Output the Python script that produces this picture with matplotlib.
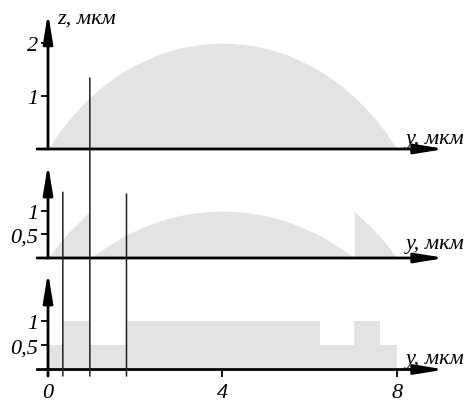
import matplotlib
matplotlib.use("Agg")
import matplotlib.pyplot as plt
from matplotlib.patches import ConnectionPatch

# top: continuous profile z(y)
top_y = [0, 0.25, 0.5, 0.75, 1.0, 1.25, 1.5, 1.75, 2.0, 2.25, 2.5, 2.75, 3.0, 3.25, 3.5, 3.75, 4.0,
         4.25, 4.5, 4.75, 5.0, 5.25, 5.5, 5.75, 6.0, 6.25, 6.5, 6.75, 7.0, 7.25, 7.5, 7.75, 8.0]
top_z = [0, 0.31, 0.57, 0.80, 1.0, 1.18, 1.33, 1.47, 1.58, 1.68, 1.77, 1.84, 1.90, 1.94, 1.97, 1.99, 2.0,
         1.99, 1.97, 1.94, 1.90, 1.84, 1.77, 1.68, 1.58, 1.47, 1.33, 1.18, 1.0, 0.80, 0.57, 0.31, 0]

# middle: profile folded into zones
mid_y = [0, 0.25, 0.5, 0.75, 0.96, 0.96, 1.25, 1.5, 1.75, 2.0, 2.25, 2.5, 2.75, 3.0, 3.25, 3.5, 3.75, 4.0,
         4.25, 4.5, 4.75, 5.0, 5.25, 5.5, 5.75, 6.0, 6.25, 6.5, 6.75, 7.02, 7.02, 7.25, 7.5, 7.75, 8.0]
mid_z = [0, 0.31, 0.57, 0.80, 1.0, 0, 0.18, 0.33, 0.47, 0.58, 0.68, 0.77, 0.84, 0.90, 0.94, 0.97, 0.99, 1.0,
         0.99, 0.97, 0.94, 0.90, 0.84, 0.77, 0.68, 0.58, 0.47, 0.33, 0.18, 0, 1.0, 0.80, 0.57, 0.31, 0]

# bottom: two-level binary profile
bin_edges = [0, 0.34, 0.96, 1.80, 6.24, 7.02, 7.61, 8.0]
bin_levels = [0.5, 1, 0.5, 1, 0.5, 1, 0.5]

# vertical guide lines: (y position, top z in its panel, panel)
guides = [(0.34, 1.40, "mid"), (0.96, 1.34, "top"), (1.80, 1.36, "mid")]

xticks = [0, 4, 8]
fill_c = "#e3e3e3"

plt.rcParams["font.family"] = "Liberation Serif"
plt.rcParams["font.style"] = "italic"
plt.rcParams["font.size"] = 16

fig = plt.figure(figsize=(4.65, 4.02), dpi=100)
xl = (-1.101, 9.564)
ax_top = fig.add_axes([0, 0.602, 1, 0.398])
ax_mid = fig.add_axes([0, 0.3408, 1, 0.2612])
ax_bot = fig.add_axes([0, 0, 1, 0.3408])
ax_top.set_ylim(-0.189, 2.83)
ax_mid.set_ylim(-0.128, 2.106)
ax_bot.set_ylim(-0.649, 2.175)

ax_top.fill_between(top_y, top_z, color=fill_c, lw=0)
ax_mid.fill_between(mid_y, mid_z, color=fill_c, lw=0)
ax_bot.stairs(bin_levels, bin_edges, fill=True, color=fill_c, lw=0)

arrow = dict(arrowstyle="-|>,head_length=1.1,head_width=0.18", lw=2, color="k",
             shrinkA=0, shrinkB=0)
ytop = {ax_top: 2.57, ax_mid: 2.0, ax_bot: 2.01}
ybot = {ax_top: 0, ax_mid: 0, ax_bot: -0.134}
ylab = {ax_top: 0.2, ax_mid: 0.3, ax_bot: 0.22}
yticks = {ax_top: ([1, 2], ["1", "2"]), ax_mid: ([0.5, 1], ["0,5", "1"]),
          ax_bot: ([0.5, 1], ["0,5", "1"])}

for ax in (ax_top, ax_mid, ax_bot):
    ax.set_xlim(*xl)
    ax.patch.set_alpha(0)
    for s in ax.spines.values():
        s.set_color("none")
    ax.spines["left"].set_position(("data", 0))
    ax.spines["bottom"].set_position(("data", 0))
    ax.annotate("", xy=(9.1, 0), xytext=(-0.25, 0), arrowprops=arrow, annotation_clip=False)
    ax.annotate("", xy=(0, ytop[ax]), xytext=(0, ybot[ax]), arrowprops=arrow, annotation_clip=False)
    ax.text(9.55, ylab[ax], "y, мкм", ha="right", va="center")
    ax.set_yticks(*yticks[ax])
    ax.tick_params(axis="y", direction="out", length=5, width=1.3, pad=2, labelsize=16)
    ax.set_xticks([])

ax_top.text(0.21, 2.47, "z, мкм", ha="left", va="center")

ax_bot.set_xticks(xticks, [str(v) for v in xticks])
ax_bot.tick_params(axis="x", direction="out", length=5, width=1.3, pad=5, labelsize=16)

panels = {"top": ax_top, "mid": ax_mid}
for x, z, p in guides:
    con = ConnectionPatch(xyA=(x, z), coordsA=panels[p].transData,
                          xyB=(x, -0.134), coordsB=ax_bot.transData,
                          color="#222222", lw=1.1)
    fig.add_artist(con)

fig.savefig("out.png", dpi=100)
